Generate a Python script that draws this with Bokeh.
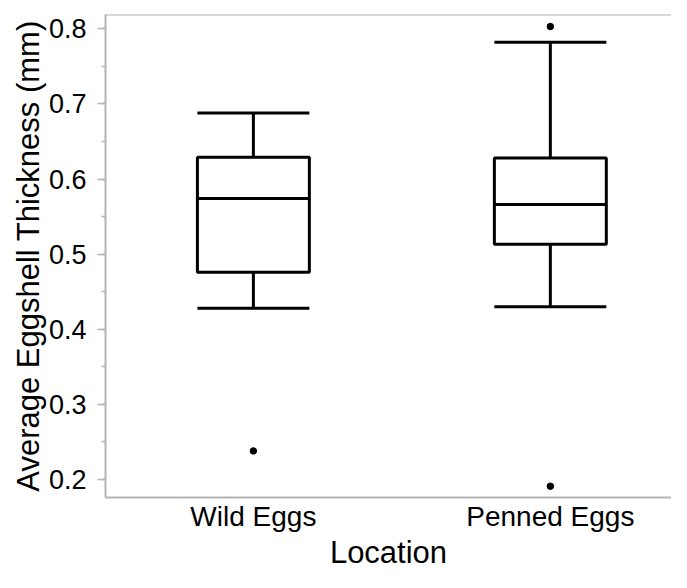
from bokeh.plotting import figure
from bokeh.models import (Range1d, FixedTicker, SingleIntervalTicker,
                          ColumnDataSource, PrintfTickFormatter, Span)
from bokeh.embed import file_html
from bokeh.resources import INLINE

# ---- data ----
categories = ["Wild Eggs", "Penned Eggs"]
lower_whisker = [0.428, 0.430]
q1 = [0.476, 0.513]
median = [0.574, 0.566]
q3 = [0.629, 0.628]
upper_whisker = [0.688, 0.782]
outlier_category = ["Wild Eggs", "Penned Eggs", "Penned Eggs"]
outlier_value = [0.238, 0.803, 0.191]

FONT = "Liberation Sans"
GREY = "#b4b4b4"

xpos = [i + 0.5 for i in range(len(categories))]
box_w = 0.377

src = ColumnDataSource(dict(
    x=xpos, lo=lower_whisker, q1=q1, med=median, q3=q3, hi=upper_whisker,
    xl=[x - box_w / 2 for x in xpos], xr=[x + box_w / 2 for x in xpos],
))
osrc = ColumnDataSource(dict(
    x=[xpos[categories.index(c)] for c in outlier_category], y=outlier_value,
))

x_end = 1.908
y_end = 0.819
p = figure(width=671, height=572, output_backend="svg", toolbar_location=None,
           x_range=Range1d(0.002, x_end), y_range=Range1d(0.176, y_end),
           min_border_left=105, min_border_right=0, min_border_top=14,
           min_border_bottom=60, x_axis_label="Location",
           y_axis_label="Average Eggshell Thickness (mm)")
p.outline_line_color = "white"
p.outline_line_width = 2
p.grid.visible = False
p.background_fill_color = "white"
p.border_fill_color = "white"

p.segment(x0="x", y0="q3", x1="x", y1="hi", source=src, line_color="black", line_width=3)
p.segment(x0="x", y0="lo", x1="x", y1="q1", source=src, line_color="black", line_width=3)
p.segment(x0="xl", y0="hi", x1="xr", y1="hi", source=src, line_color="black", line_width=3)
p.segment(x0="xl", y0="lo", x1="xr", y1="lo", source=src, line_color="black", line_width=3)
p.vbar(x="x", width=box_w, bottom="q1", top="q3", source=src,
       fill_color="white", line_color="black", line_width=3)
p.segment(x0="xl", y0="med", x1="xr", y1="med", source=src, line_color="black", line_width=3)
p.scatter(x="x", y="y", source=osrc, size=6.5, color="black")

xa = p.xaxis[0]
xa.ticker = FixedTicker(ticks=xpos)
xa.major_label_overrides = {x: c for x, c in zip(xpos, categories)}
xa.major_tick_line_color = None
xa.minor_tick_line_color = None
xa.major_tick_out = 0
xa.major_tick_in = 0
xa.axis_line_color = GREY
xa.axis_line_width = 2
xa.major_label_text_font = FONT
xa.major_label_text_font_size = "28px"
xa.major_label_text_color = "black"
xa.major_label_standoff = 3
xa.axis_label_text_font = FONT
xa.axis_label_text_font_size = "31px"
xa.axis_label_text_font_style = "normal"
xa.axis_label_text_color = "black"
xa.axis_label_standoff = 0

ya = p.yaxis[0]
ya.ticker = SingleIntervalTicker(interval=0.1, num_minor_ticks=2)
ya.formatter = PrintfTickFormatter(format="%.1f")
ya.axis_line_color = GREY
ya.axis_line_width = 2
ya.major_tick_line_color = GREY
ya.major_tick_line_width = 1.5
ya.major_tick_out = 8
ya.major_tick_in = 0
ya.minor_tick_line_color = GREY
ya.minor_tick_line_width = 1.5
ya.minor_tick_out = 4
ya.minor_tick_in = 0
ya.major_label_text_font = FONT
ya.major_label_text_font_size = "27px"
ya.major_label_text_color = "black"
ya.major_label_standoff = 11
ya.axis_label_text_font = FONT
ya.axis_label_text_font_size = "31px"
ya.axis_label_text_font_style = "normal"
ya.axis_label_text_color = "black"
ya.axis_label_standoff = 0

# top border line only (the original has no right border)
p.add_layout(Span(location=y_end, dimension="width", line_color=GREY, line_width=2,
                  level="overlay"))

open("out.html", "w").write(file_html(p, INLINE))
